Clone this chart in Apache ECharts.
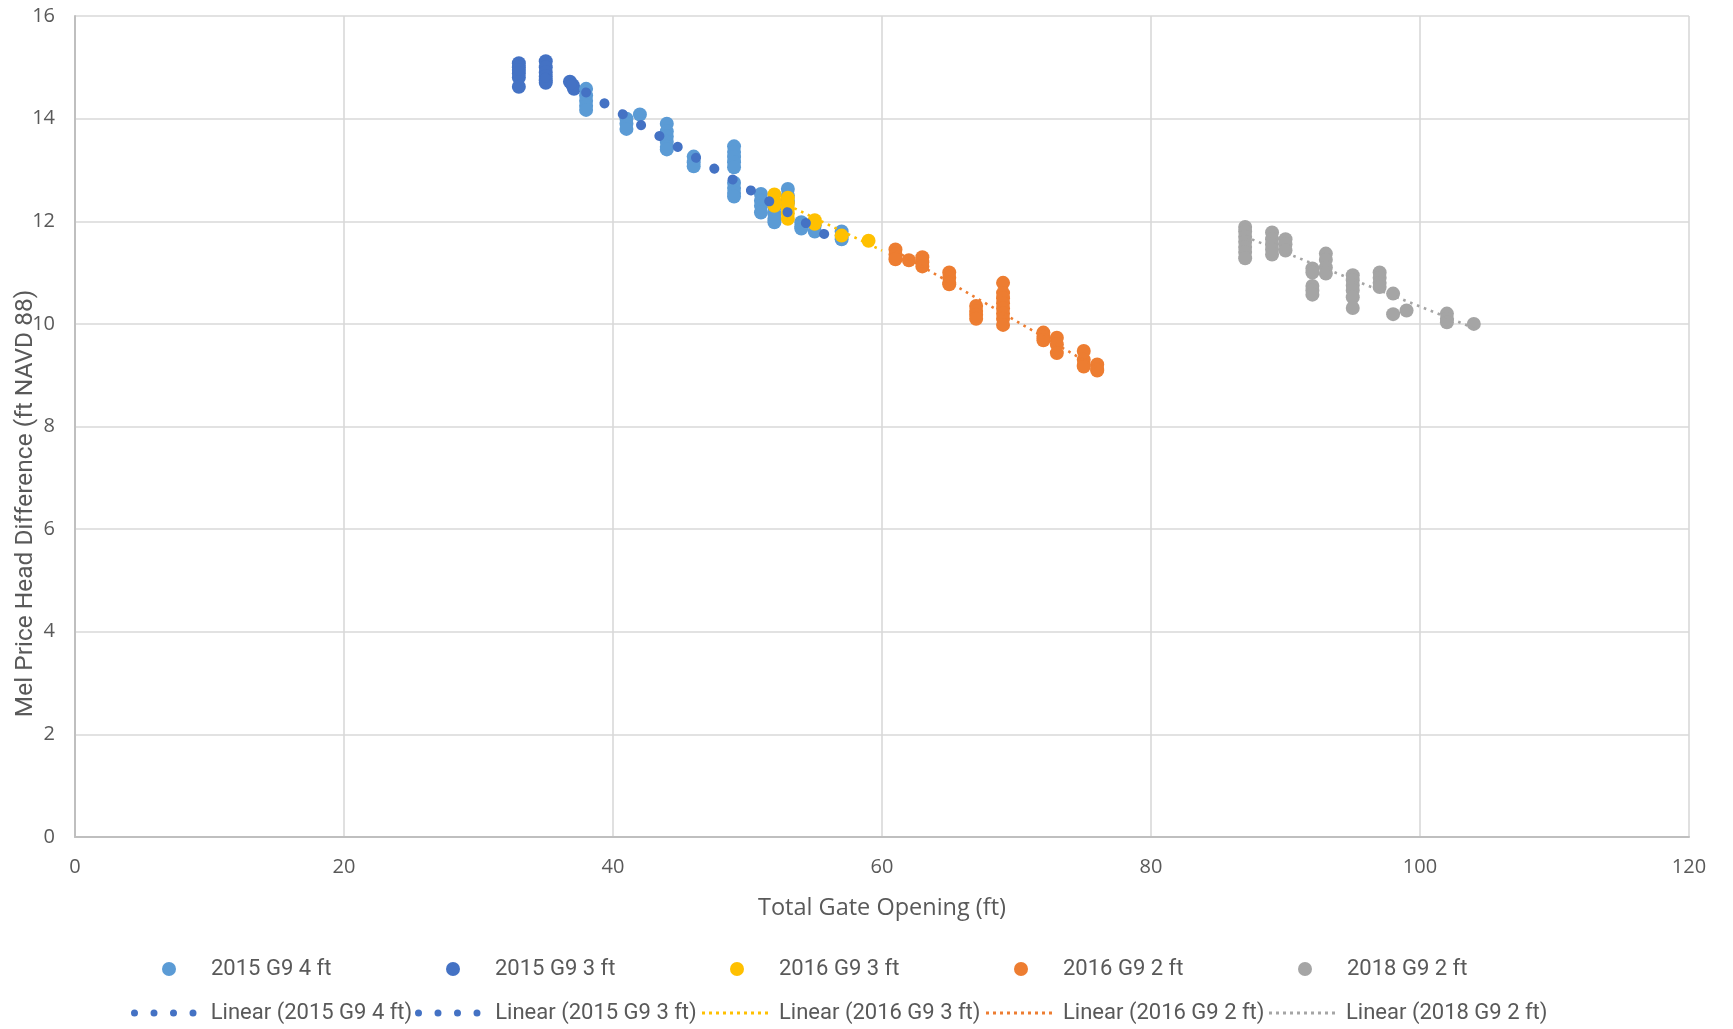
<!DOCTYPE html>
<html>
<head>
<meta charset="utf-8">
<script src="https://cdn.jsdelivr.net/npm/echarts@6/dist/echarts.min.js"></script>
<style>
html,body{margin:0;padding:0;background:#fff;}
#chart{width:1733px;height:1029px;}
</style>
</head>
<body>
<div id="chart"></div>
<script>
// ---- data ----
var xTicks = [0, 20, 40, 60, 80, 100, 120];
var yTicks = [0, 2, 4, 6, 8, 10, 12, 14, 16];

var names = ['2015 G9 4 ft', '2015 G9 3 ft', '2016 G9 3 ft', '2016 G9 2 ft', '2018 G9 2 ft'];
var trendNames = ['Linear (2015 G9 4 ft)', 'Linear (2015 G9 3 ft)', 'Linear (2016 G9 3 ft)', 'Linear (2016 G9 2 ft)', 'Linear (2018 G9 2 ft)'];

var s2015g4 = [
  [38,14.58],[38,14.45],[38,14.35],[38,14.25],[38,14.17],
  [41,14.0],[41,13.9],[41,13.8],
  [42,14.08],
  [44,13.9],[44,13.75],[44,13.65],[44,13.55],[44,13.45],[44,13.4],
  [46,13.26],[46,13.15],[46,13.07],
  [49,13.46],[49,13.35],[49,13.25],[49,13.15],[49,13.05],[49,12.75],[49,12.65],[49,12.55],[49,12.48],
  [51,12.53],[51,12.4],[51,12.3],[51,12.17],
  [52,12.28],[52,12.15],[52,12.05],[52,11.98],
  [53,12.63],[53,12.5],[53,12.4],[53,12.35],
  [54,11.98],[54,11.9],[54,11.86],
  [55,11.92],[55,11.8],
  [57,11.8],[57,11.72],[57,11.65]
];
var s2015g3 = [
  [33,15.08],[33,15.0],[33,14.95],[33,14.88],[33,14.8],[33,14.62],
  [35,15.12],[35,15.0],[35,14.9],[35,14.82],[35,14.75],[35,14.7],
  [36.8,14.72],[37,14.65],[37.1,14.58]
];
var s2016g3 = [
  [52,12.52],[52,12.4],[52,12.3],
  [53,12.46],[53,12.35],[53,12.25],[53,12.15],[53,12.05],
  [55,12.02],[55,11.95],
  [57,11.72],
  [59,11.62]
];
var s2016g2 = [
  [61,11.45],[61,11.35],[61,11.26],
  [62,11.24],
  [63,11.3],[63,11.2],[63,11.12],
  [65,11.0],[65,10.9],[65,10.8],[65,10.77],
  [67,10.35],[67,10.25],[67,10.18],[67,10.1],
  [69,10.8],[69,10.6],[69,10.5],[69,10.4],[69,10.3],[69,10.2],[69,10.1],[69,9.98],
  [72,9.83],[72,9.75],[72,9.68],
  [73,9.73],[73,9.6],[73,9.43],
  [75,9.47],[75,9.3],[75,9.2],[75,9.17],
  [76,9.21],[76,9.12],[76,9.09]
];
var s2018g2 = [
  [87,11.89],[87,11.8],[87,11.7],[87,11.6],[87,11.5],[87,11.4],[87,11.28],
  [89,11.78],[89,11.65],[89,11.55],[89,11.45],[89,11.35],
  [90,11.65],[90,11.55],[90,11.43],
  [92,11.08],[92,11.0],[92,10.74],[92,10.65],[92,10.57],
  [93,11.37],[93,11.25],[93,11.1],[93,10.98],
  [95,10.95],[95,10.85],[95,10.75],[95,10.65],[95,10.52],[95,10.31],
  [97,11.0],[97,10.9],[97,10.8],[97,10.72],
  [98,10.59],[98,10.19],
  [99,10.26],
  [102,10.2],[102,10.1],[102,10.03],
  [104,10.0]
];

// trendline end points
var t2015g4 = [[38,14.51],[57,11.55]];
var t2015g3 = [[33,14.93],[37,14.66]];
var t2016g3 = [[52,12.44],[60,11.43]];
var t2016g2 = [[61,11.42],[76,9.14]];
var t2018g2 = [[87,11.70],[104,9.92]];

var colors = ['#5B9BD5', '#4472C4', '#FFC000', '#ED7D31', '#A5A5A5'];
var trendColors = ['#4472C4', '#4472C4', '#FFC000', '#ED7D31', '#A5A5A5'];

// ---- chart ----
var chart = echarts.init(document.getElementById('chart'), null, {renderer: 'canvas'});
var textGrey = '#595959';
var uiFont = '"Open Sans", sans-serif';
var narrowFont = 'Roboto, sans-serif';

function scatter(name, data, color) {
  return {
    name: name, type: 'scatter', data: data, symbol: 'circle', symbolSize: 14,
    itemStyle: {color: color, opacity: 1}, silent: true, animation: false
  };
}
function trend(name, data, color, dash, width, cap) {
  return {
    name: name, type: 'line', data: data, symbol: 'none', silent: true, animation: false, z: 5,
    color: color,
    itemStyle: {color: color, borderWidth: 0},
    lineStyle: {color: color, width: width, type: dash, cap: cap}
  };
}

var bigDots = 'path://M0,3.5a3.5,3.5 0 1,0 7,0a3.5,3.5 0 1,0 -7,0Z' +
  'M19.5,3.5a3.5,3.5 0 1,0 7,0a3.5,3.5 0 1,0 -7,0Z' +
  'M39,3.5a3.5,3.5 0 1,0 7,0a3.5,3.5 0 1,0 -7,0Z' +
  'M58.5,3.5a3.5,3.5 0 1,0 7,0a3.5,3.5 0 1,0 -7,0Z';
var smallDots = 'path://';
for (var k = 0; k < 10; k++) { smallDots += 'M' + (k * 7) + ',0h3v3h-3Z'; }

// left = left edge of the drawn icon (layout uses the drawn bounds)
function legendItem(name, left, centerY, icon, w, h) {
  return {
    show: true, data: [name], left: left, top: centerY - 9,
    orient: 'horizontal', icon: icon, itemWidth: w, itemHeight: h, symbolKeepAspect: true,
    itemStyle: {borderWidth: 0}, padding: 0,
    textStyle: {color: textGrey, fontSize: 22, fontFamily: narrowFont},
    selectedMode: false
  };
}

var row1Centers = [169, 453, 737, 1021, 1305];
var legends = [];
for (var i = 0; i < 5; i++) {
  legends.push(legendItem(names[i], row1Centers[i] - 7, 967, 'circle', 74, 14));
}
legends.push(legendItem(trendNames[0], 131, 1011, bigDots, 84, 7));
legends.push(legendItem(trendNames[1], 415, 1011, bigDots, 85, 7));
legends.push(legendItem(trendNames[2], 702, 1011, smallDots, 78, 3));
legends.push(legendItem(trendNames[3], 986, 1011, smallDots, 78, 3));
legends.push(legendItem(trendNames[4], 1269, 1011, smallDots, 78, 3));

var option = {
  animation: false,
  backgroundColor: '#ffffff',
  legend: legends,
  grid: {left: 75, right: 44, top: 16, bottom: 192, containLabel: false, outerBoundsMode: 'none'},
  xAxis: {
    type: 'value', min: xTicks[0], max: xTicks[xTicks.length - 1], interval: xTicks[1] - xTicks[0],
    name: 'Total Gate Opening (ft)', nameLocation: 'middle', nameGap: 59,
    nameTextStyle: {color: textGrey, fontSize: 23.5, fontFamily: uiFont},
    axisLine: {show: true, lineStyle: {color: '#BFBFBF', width: 2}},
    axisTick: {show: false},
    axisLabel: {color: textGrey, fontSize: 20, fontFamily: uiFont, margin: 20},
    splitLine: {show: true, lineStyle: {color: '#D9D9D9', width: 1.6}}
  },
  yAxis: {
    type: 'value', min: yTicks[0], max: yTicks[yTicks.length - 1], interval: yTicks[1] - yTicks[0],
    name: 'Mel Price Head Difference (ft NAVD 88)', nameLocation: 'middle', nameGap: 37, nameRotate: 90,
    nameMoveOverlap: false,
    nameTextStyle: {color: textGrey, fontSize: 24.5, fontFamily: narrowFont, padding: [0, 154, 0, 0]},
    axisLine: {show: true, lineStyle: {color: '#BFBFBF', width: 2}},
    axisTick: {show: false},
    axisLabel: {color: textGrey, fontSize: 20, fontFamily: uiFont, margin: 20},
    splitLine: {show: true, lineStyle: {color: '#D9D9D9', width: 1.6}}
  },
  series: [
    scatter(names[1], s2015g3, colors[1]),
    scatter(names[0], s2015g4, colors[0]),
    scatter(names[2], s2016g3, colors[2]),
    scatter(names[3], s2016g2, colors[3]),
    scatter(names[4], s2018g2, colors[4]),
    trend(trendNames[1], t2015g3, trendColors[1], [0.1, 27.2], 10, 'round'),
    trend(trendNames[0], t2015g4, trendColors[0], [0.1, 21.2], 10, 'round'),
    trend(trendNames[2], t2016g3, trendColors[2], [2.6, 4.8], 2.6, 'butt'),
    trend(trendNames[3], t2016g2, trendColors[3], [2.6, 4.8], 2.6, 'butt'),
    trend(trendNames[4], t2018g2, trendColors[4], [2.6, 4.8], 2.6, 'butt')
  ]
};
chart.setOption(option);
</script>
</body>
</html>
